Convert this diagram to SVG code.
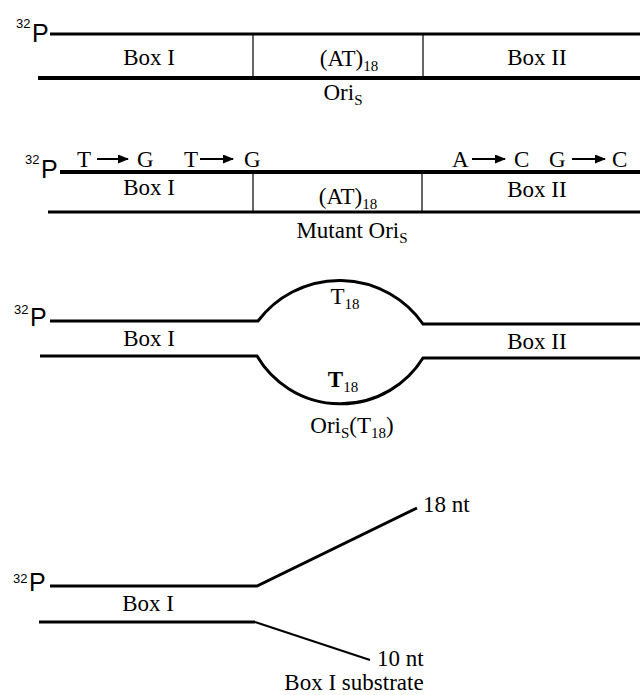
<svg xmlns="http://www.w3.org/2000/svg" width="640" height="695" viewBox="0 0 640 695">
<style>
.t{font-family:"Liberation Serif","Times New Roman",serif;font-size:23px;fill:#000}
.sub{font-size:15px}
.sup{font-family:"Liberation Sans",Arial,sans-serif;font-size:13px;fill:#000}
.p{font-family:"Liberation Sans",Arial,sans-serif;font-size:25px;fill:#000}
.s{stroke:#000;fill:none;stroke-width:3}
.s4{stroke:#000;fill:none;stroke-width:4}
.div{stroke:#000;stroke-width:1.2}
.arr{stroke:#000;stroke-width:2;marker-end:url(#ah)}
</style>
<defs>
<marker id="ah" viewBox="0 0 11 9" refX="10" refY="4.5" markerWidth="11" markerHeight="9" markerUnits="userSpaceOnUse" orient="auto">
<polygon points="0,0 11,4.5 0,9" fill="#000"/>
</marker>
</defs>
<rect width="640" height="695" fill="#fff"/>

<g id="panel1">
<text class="sup" x="16" y="28">32</text><text class="p" x="32" y="42">P</text>
<line class="s" x1="50" y1="34" x2="640" y2="34"/>
<line class="s4" x1="38" y1="78" x2="640" y2="78"/>
<line class="div" x1="253" y1="34" x2="253" y2="78"/>
<line class="div" x1="423" y1="34" x2="423" y2="78"/>
<text class="t" x="149" y="65" text-anchor="middle">Box I</text>
<text class="t" x="349" y="66" text-anchor="middle">(AT)<tspan class="sub" dy="5">18</tspan></text>
<text class="t" x="537" y="65" text-anchor="middle">Box II</text>
<text class="t" x="343" y="100" text-anchor="middle">Ori<tspan class="sub" dy="5">S</tspan></text>
</g>

<g id="panel2">
<text class="sup" x="25" y="164">32</text><text class="p" x="41" y="178">P</text>
<line class="s4" x1="60" y1="172" x2="640" y2="172"/>
<line class="s" x1="48" y1="212" x2="640" y2="212"/>
<line class="div" x1="253" y1="172" x2="253" y2="212"/>
<line class="div" x1="422" y1="172" x2="422" y2="212"/>
<text class="t" x="77" y="167">T</text>
<text class="t" x="137" y="167">G</text>
<text class="t" x="184" y="167">T</text>
<text class="t" x="244" y="167">G</text>
<text class="t" x="452" y="167">A</text>
<text class="t" x="514" y="167">C</text>
<text class="t" x="549" y="167">G</text>
<text class="t" x="612" y="167">C</text>
<line class="arr" x1="97" y1="159" x2="128" y2="159"/>
<line class="arr" x1="200" y1="159" x2="233" y2="159"/>
<line class="arr" x1="472" y1="159" x2="505" y2="159"/>
<line class="arr" x1="572" y1="159" x2="605" y2="159"/>
<text class="t" x="149" y="195" text-anchor="middle">Box I</text>
<text class="t" x="348" y="204" text-anchor="middle">(AT)<tspan class="sub" dy="5">18</tspan></text>
<text class="t" x="537" y="197" text-anchor="middle">Box II</text>
<text class="t" x="352" y="238" text-anchor="middle">Mutant Ori<tspan class="sub" dy="5">S</tspan></text>
</g>

<g id="panel3">
<text class="sup" x="14" y="314">32</text><text class="p" x="30" y="326">P</text>
<path class="s" d="M50,321 H258 A102,102 0 0 1 423,324 H640"/>
<path class="s" d="M40,356 H257 A97,97 0 0 0 423,358 H640"/>
<text class="t" x="149" y="346" text-anchor="middle">Box I</text>
<text class="t" x="537" y="349" text-anchor="middle">Box II</text>
<text class="t" x="345" y="304" text-anchor="middle">T<tspan class="sub" dy="5">18</tspan></text>
<text class="t" x="343" y="387" text-anchor="middle"><tspan font-weight="bold">T</tspan><tspan class="sub" dy="5">18</tspan></text>
<text class="t" x="352" y="433" text-anchor="middle">Ori<tspan class="sub" dy="5">S</tspan><tspan dy="-5">(T</tspan><tspan class="sub" dy="5">18</tspan><tspan dy="-5">)</tspan></text>
</g>

<g id="panel4">
<text class="sup" x="13" y="583">32</text><text class="p" x="29" y="591">P</text>
<path class="s" d="M50,586 H257 L417,508"/>
<line class="s" x1="39" y1="622" x2="255" y2="622"/>
<line stroke="#000" stroke-width="2" x1="255" y1="622" x2="370" y2="660"/>
<text class="t" x="148" y="611" text-anchor="middle">Box I</text>
<text class="t" x="423" y="512">18 nt</text>
<text class="t" x="377" y="666">10 nt</text>
<text class="t" x="354" y="690" text-anchor="middle" font-size="22">Box I substrate</text>
</g>
</svg>
